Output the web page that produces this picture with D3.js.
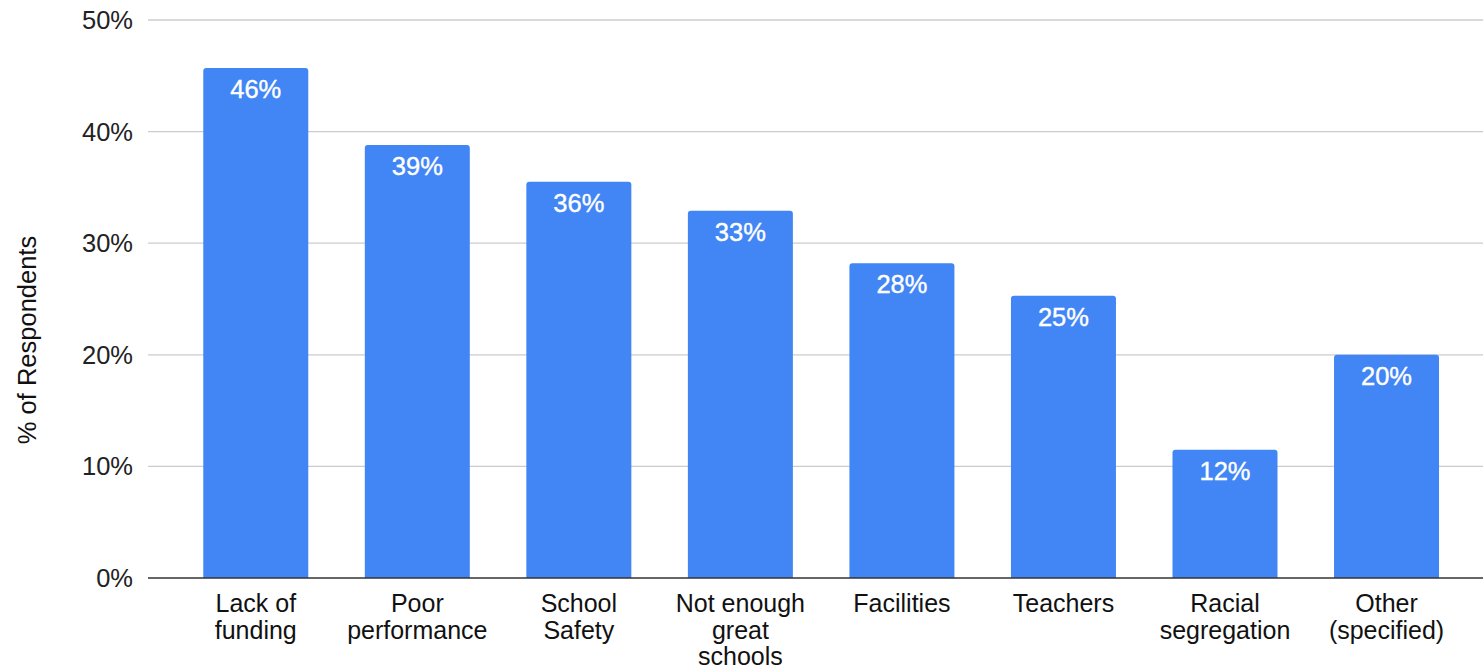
<!DOCTYPE html>
<html><head><meta charset="utf-8">
<script src="https://cdn.jsdelivr.net/npm/d3@7"></script>
<style>body{margin:0;background:#fff}svg{display:block;font-family:"Liberation Sans",Arial,sans-serif}</style>
</head><body>
<svg id="c" width="1483" height="668"></svg>
<script>
const categories = [["Lack of","funding"],["Poor","performance"],["School","Safety"],["Not enough","great","schools"],["Facilities"],["Teachers"],["Racial","segregation"],["Other","(specified)"]];
const values = [45.7, 38.8, 35.5, 32.9, 28.2, 25.3, 11.5, 20.0];
const yTicks = [0, 10, 20, 30, 40, 50];
const yTitle = "% of Respondents";

const svg = d3.select("#c");
const x = d3.scaleBand().domain(d3.range(categories.length)).range([175, 1467.3]).paddingInner(0.35).paddingOuter(0.175);
const y = d3.scaleLinear().domain([0, 50]).range([578, 20]);

// gridlines
svg.append("g").selectAll("line").data(yTicks.filter(t=>t>0)).join("line")
  .attr("x1",148).attr("x2",1483).attr("y1",d=>y(d)).attr("y2",d=>y(d))
  .attr("stroke","#cccccc").attr("stroke-width",1.3);

// y tick labels
svg.append("g").selectAll("text").data(yTicks).join("text")
  .attr("x",133).attr("y",d=>y(d)).attr("dy","0.35em").attr("text-anchor","end")
  .attr("font-size",25.5).attr("fill","#222").text(d=>d+"%");

// bars with rounded top corners
const r = 3;
svg.append("g").selectAll("path").data(values).join("path")
  .attr("fill","#4285F4")
  .attr("d",(d,i)=>{
    const x0=x(i), x1=x(i)+x.bandwidth(), yt=y(d), yb=y(0);
    return `M${x0},${yb}V${yt+r}Q${x0},${yt} ${x0+r},${yt}H${x1-r}Q${x1},${yt} ${x1},${yt+r}V${yb}Z`;
  });

// value labels
svg.append("g").selectAll("text").data(values).join("text")
  .attr("x",(d,i)=>x(i)+x.bandwidth()/2).attr("y",d=>y(d)+30)
  .attr("text-anchor","middle").attr("font-size",25.5).attr("fill","#fff")
  .attr("stroke","#fff").attr("stroke-width",0.4)
  .text(d=>Math.round(d)+"%");

// baseline
svg.append("line").attr("x1",148).attr("x2",1483).attr("y1",y(0)).attr("y2",y(0))
  .attr("stroke","#333").attr("stroke-width",1.5);

// x labels
const xl = svg.append("g").selectAll("text").data(categories).join("text")
  .attr("text-anchor","middle").attr("font-size",25).attr("fill","#111")
  .attr("transform",(d,i)=>`translate(${x(i)+x.bandwidth()/2},612)`);
xl.selectAll("tspan").data(d=>d).join("tspan")
  .attr("x",0).attr("y",(d,j)=>j*26.5).text(d=>d);

// y title
svg.append("text").attr("transform","translate(36,340) rotate(-90)")
  .attr("text-anchor","middle").attr("font-size",25.5).attr("fill","#111").text(yTitle);
</script>
</body></html>
